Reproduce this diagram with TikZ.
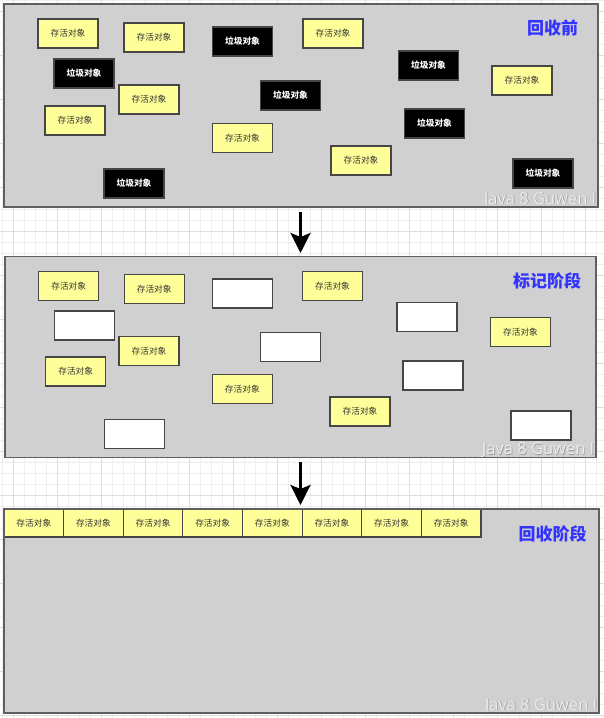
\documentclass[tikz,border=0pt]{standalone}
\usepackage{fontspec}
\setmainfont{Noto Sans CJK SC}
\newfontfamily\wmfont{Open Sans}
\usetikzlibrary{arrows.meta,calc}
\definecolor{panelfill}{RGB}{208,208,208}
\definecolor{paneldraw}{RGB}{95,95,95}
\definecolor{liveyellow}{RGB}{255,255,153}
\definecolor{boxdraw}{RGB}{70,70,70}
\definecolor{titleblue}{RGB}{51,51,255}
\definecolor{gridminor}{RGB}{238,238,238}
\definecolor{gridmajor}{RGB}{222,222,222}
\definecolor{wmfill}{RGB}{238,238,238}
\definecolor{wmshadow}{RGB}{150,150,150}
\begin{document}
\begin{tikzpicture}[x=1pt,y=-1pt,
  panelbg/.style={fill=panelfill, inner sep=0pt, outer sep=0pt, anchor=north west},
  panelline/.style={draw=paneldraw, line width=1.4pt},
  objbox/.style={draw=boxdraw, line width=1.1pt, minimum width=60pt, minimum height=29pt, inner sep=0pt, font=\fontsize{8.7}{10}\selectfont},
  live/.style={objbox, fill=liveyellow, text=black!80},
  garbage/.style={objbox, fill=black, text=white, font=\fontsize{8.7}{10}\selectfont\bfseries},
  freed/.style={objbox, fill=white},
  rowbox/.style={live, minimum width=59.625pt, minimum height=28pt},
  stagetitle/.style={text=titleblue, font=\fontsize{17}{20}\selectfont\bfseries, inner sep=0pt},
  wm/.style={font=\wmfont\fontsize{16.5}{18}\selectfont, inner sep=0pt, text=wmfill},
  wmsh/.style={font=\wmfont\fontsize{16.5}{18}\selectfont, inner sep=0pt, text=wmshadow},
  flow/.style={line width=3pt, -{Stealth[width=20pt,length=20pt,inset=4pt]}},
]
\useasboundingbox (0,0) rectangle (604,718);
\fill[white] (0,0) rectangle (604,718);
% grid
\foreach \gx in {0,...,54} {\draw[gridminor, line width=0.6pt] (2.5+11*\gx,0) -- (2.5+11*\gx,718);}
\foreach \gy in {0,...,65} {\draw[gridminor, line width=0.6pt] (0,11*\gy) -- (604,11*\gy);}
\foreach \gx in {0,...,13} {\draw[gridmajor, line width=0.6pt] (13.5+44*\gx,0) -- (13.5+44*\gx,718);}
\foreach \gy in {0,...,16} {\draw[gridmajor, line width=0.6pt] (0,11+44*\gy) -- (604,11+44*\gy);}

% panels
\node[panelbg, minimum width=594pt, minimum height=203pt] (p1) at (4,4) {};
\node[panelbg, minimum width=591pt, minimum height=201pt] (p2) at (5,256.5) {};
\node[panelbg, minimum width=595pt, minimum height=204pt] (p3) at (4,509) {};

% watermarks
\foreach \p in {p1,p2,p3} {
  \begin{scope}
    \clip (\p.north west) rectangle (\p.south east);
    \node[wmsh, anchor=base east] (\p wms) at ($(\p.south east)+(-0.8,-2.3)$) {Java 8 Guwen I};
    \node[wm, anchor=base east] (\p wm) at ($(\p.south east)+(-1.5,-3)$) {Java 8 Guwen I};
  \end{scope}
}

% panel 1 : before collection
\node[live]    (a1) at (68,33.5)   {存活对象};
\node[live]    (b1) at (154,37.5)  {存活对象};
\node[garbage] (c1) at (242.5,41.5) {垃圾对象};
\node[garbage] (d1) at (84,73.5)   {垃圾对象};
\node[live]    (e1) at (149,99.5)  {存活对象};
\node[live]    (f1) at (75,120.5)  {存活对象};
\node[garbage] (g1) at (290.5,95.5) {垃圾对象};
\node[live]    (h1) at (242.5,138) {存活对象};
\node[garbage] (i1) at (134,183.5) {垃圾对象};
\node[live]    (j1) at (333,33.5)  {存活对象};
\node[garbage] (k1) at (428.5,65.5) {垃圾对象};
\node[live]    (l1) at (522,80.5)  {存活对象};
\node[garbage] (m1) at (434.5,123.5) {垃圾对象};
\node[live]    (n1) at (361,160.5) {存活对象};
\node[garbage] (o1) at (543,173.5) {垃圾对象};
\node[stagetitle] (t1) at (552.5,28) {回收前};

% panel 2 : marking
\node[live]  (a2) at (68.7,285.8)  {存活对象};
\node[live]  (b2) at (154.2,289.3) {存活对象};
\node[freed] (c2) at (242.3,293.5) {};
\node[freed] (d2) at (84.8,325.5)  {};
\node[live]  (e2) at (149,351)     {存活对象};
\node[live]  (f2) at (75.7,371.5)  {存活对象};
\node[freed] (g2) at (290.3,347.2) {};
\node[live]  (h2) at (242.3,389.3) {存活对象};
\node[freed] (i2) at (134.5,434)   {};
\node[live]  (j2) at (332.5,285.8) {存活对象};
\node[freed] (k2) at (427,317)     {};
\node[live]  (l2) at (520.5,331.8) {存活对象};
\node[freed] (m2) at (433,375.5)   {};
\node[live]  (n2) at (360,411.5)   {存活对象};
\node[freed] (o2) at (541,425.5)   {};
\node[stagetitle] (t2) at (547,280.5) {标记阶段};

% panel 3 : collection (compacted)
\foreach \k in {0,...,7} {
  \node[rowbox] (r\k) at (4+59.625*\k+29.8125,523) {存活对象};
}
\node[stagetitle] (t3) at (552.5,533.5) {回收阶段};

% panel borders on top
\foreach \p in {p1,p2,p3} {
  \draw[panelline] (\p.north west) rectangle (\p.south east);
}

% flow arrows
\draw[flow] ($(p1.south -| p2.north)+(0,5)$) -- ($(p2.north)+(0,-3.5)$);
\draw[flow] ($(p2.south)+(0,4.5)$) -- ($(p3.north -| p2.south)+(0,-4)$);
\end{tikzpicture}
\end{document}
